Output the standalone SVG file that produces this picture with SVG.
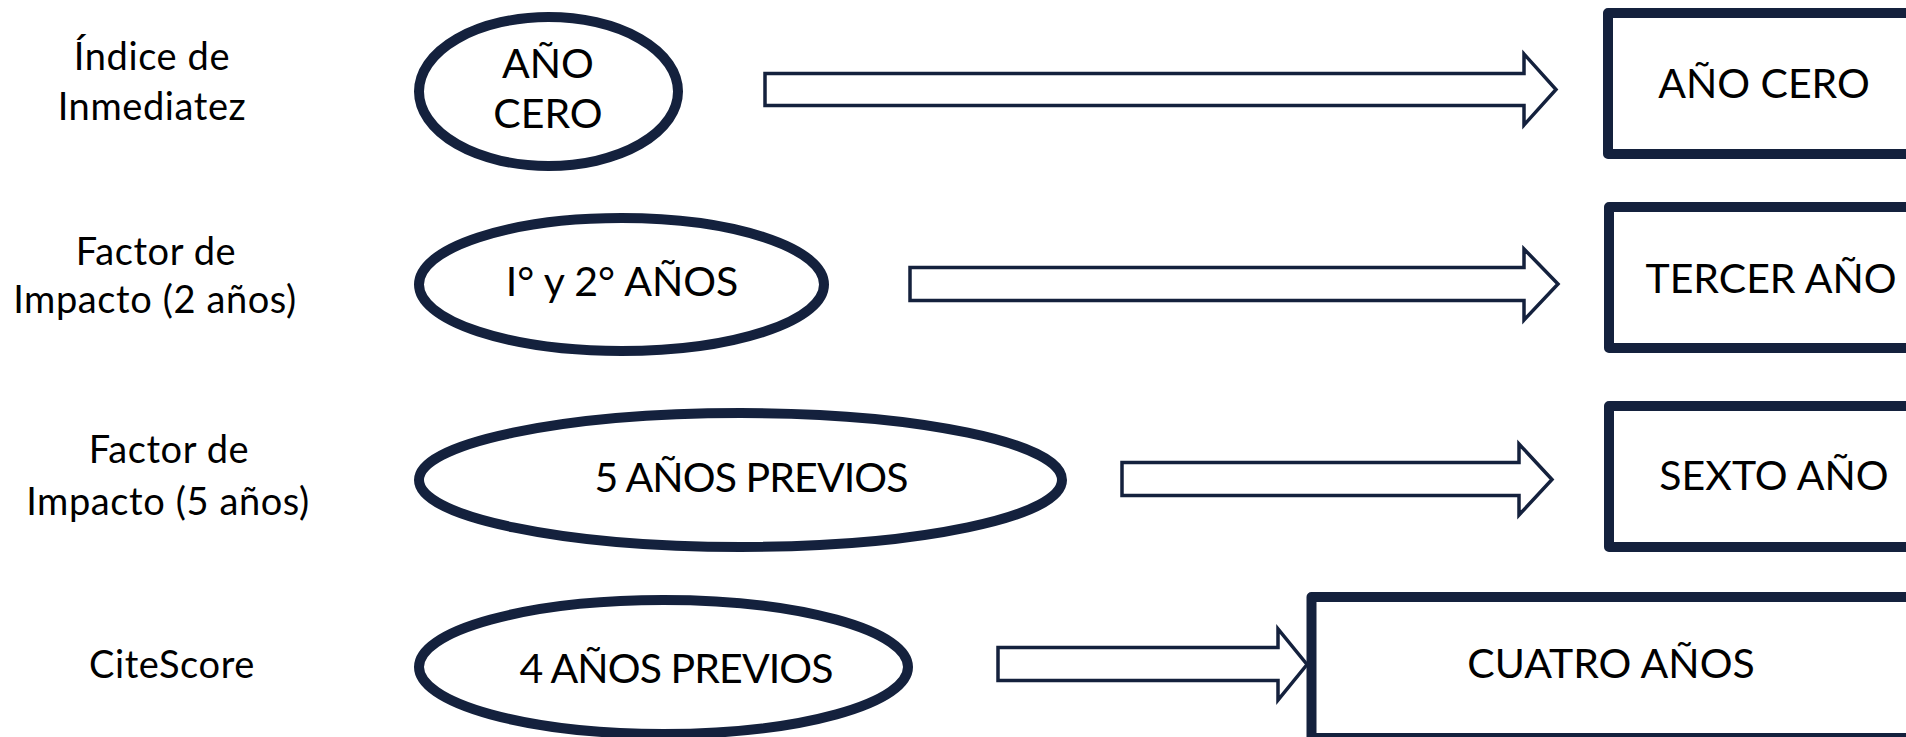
<svg xmlns="http://www.w3.org/2000/svg" width="1906" height="737" viewBox="0 0 1906 737">
<defs>
<style>
.bg{fill:#ffffff}
.ell{fill:#ffffff;stroke:#14213d;stroke-width:10}
.box{fill:#ffffff;stroke:#14213d;stroke-width:10;stroke-linejoin:round}
.arr{fill:#ffffff;stroke:#14213d;stroke-width:3.5;stroke-linejoin:miter}
.lbl{font-family:Lato,"Liberation Sans",sans-serif;font-size:38px;letter-spacing:0.6px;fill:#000000;text-anchor:middle}
.txt{font-family:Lato,"Liberation Sans",sans-serif;font-size:41px;fill:#000000;text-anchor:middle}
.tight{letter-spacing:-0.9px}
</style>
</defs>
<rect class="bg" x="0" y="0" width="1906" height="737"/>

<g id="label-indice">
<text class="lbl" x="152" y="70">Índice de</text>
<text class="lbl" x="152" y="120">Inmediatez</text>
</g>
<g id="label-fi2">
<text class="lbl" x="156" y="265">Factor de</text>
<text class="lbl" x="155" y="313">Impacto (2 años)</text>
</g>
<g id="label-fi5">
<text class="lbl" x="169" y="463">Factor de</text>
<text class="lbl" x="168" y="515">Impacto (5 años)</text>
</g>
<g id="label-citescore">
<text class="lbl" x="172" y="678">CiteScore</text>
</g>

<g id="ellipse-ano-cero">
<ellipse class="ell" cx="548.5" cy="91.5" rx="129.5" ry="74.5"/>
<text class="txt" x="548" y="78">AÑO</text>
<text class="txt" x="548" y="128">CERO</text>
</g>
<g id="ellipse-1y2">
<ellipse class="ell" cx="621.5" cy="284.5" rx="202.5" ry="66.5"/>
<text class="txt" x="622" y="296">I° y 2° AÑOS</text>
</g>
<g id="ellipse-5">
<ellipse class="ell" cx="740.5" cy="480" rx="321.5" ry="67"/>
<text class="txt tight" x="751" y="492">5 AÑOS PREVIOS</text>
</g>
<g id="ellipse-4">
<ellipse class="ell" cx="663.5" cy="667" rx="244.5" ry="67"/>
<text class="txt tight" x="676" y="683">4 AÑOS PREVIOS</text>
</g>

<g id="connectors">
<polygon class="arr" points="765,73.5 1524,73.5 1524,54 1556,89.5 1524,125 1524,105.5 765,105.5"/>
<polygon class="arr" points="910,267.5 1524,267.5 1524,249 1558,284 1524,320 1524,300.5 910,300.5"/>
<polygon class="arr" points="1122,462.5 1519,462.5 1519,444 1552,479.5 1519,515 1519,495.5 1122,495.5"/>
<polygon class="arr" points="998,647.5 1278,647.5 1278,629 1307,664.5 1278,700 1278,680.5 998,680.5"/>
</g>

<g id="box-ano-cero">
<rect class="box" x="1608" y="13" width="400" height="141"/>
<text class="txt" x="1764" y="98">AÑO CERO</text>
</g>
<g id="box-tercer">
<rect class="box" x="1609" y="207" width="400" height="141"/>
<text class="txt" x="1771" y="293">TERCER AÑO</text>
</g>
<g id="box-sexto">
<rect class="box" x="1609" y="406" width="400" height="141"/>
<text class="txt" x="1774" y="490">SEXTO AÑO</text>
</g>
<g id="box-cuatro">
<rect class="box" x="1311.5" y="597" width="700" height="141"/>
<text class="txt" x="1611" y="678">CUATRO AÑOS</text>
</g>
</svg>
